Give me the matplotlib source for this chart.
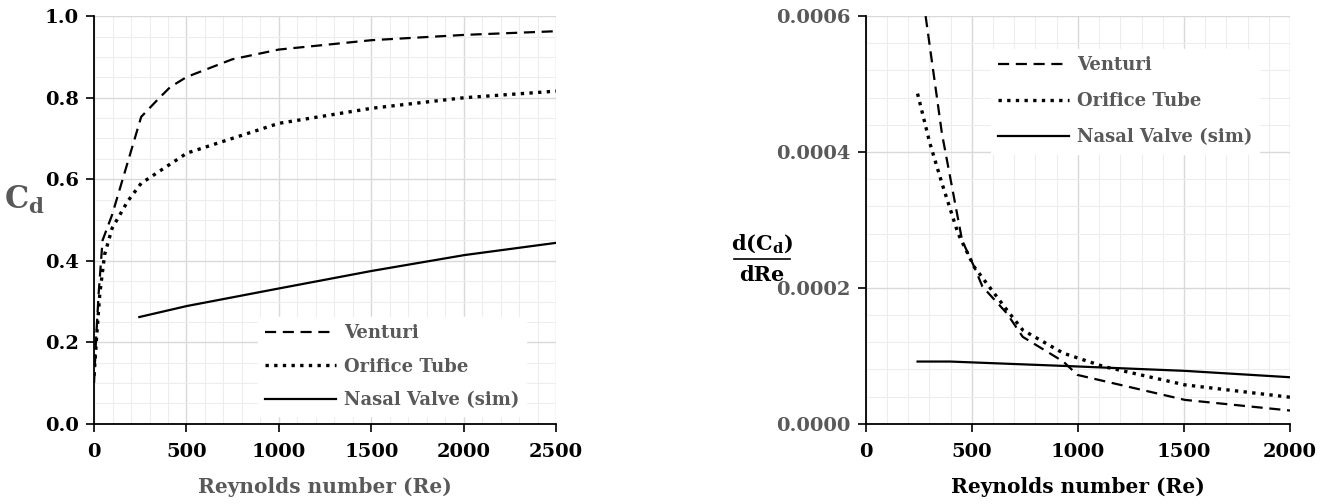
import matplotlib
matplotlib.use("Agg")
import matplotlib.pyplot as plt
from matplotlib.lines import Line2D
from matplotlib.ticker import MultipleLocator, FormatStrFormatter

# left panel: discharge coefficient vs Re
re_venturi = [0, 10, 25, 46, 98, 151, 255, 350, 412, 502, 747, 999, 1501, 2004, 2500]
cd_venturi = [0.10, 0.20, 0.32, 0.45, 0.513, 0.594, 0.753, 0.798, 0.826, 0.851, 0.894, 0.918, 0.941, 0.954, 0.963]
re_orifice = [0, 15, 31, 57, 98, 182, 255, 502, 747, 999, 1501, 2004, 2500]
cd_orifice = [0.118, 0.22, 0.318, 0.415, 0.48, 0.546, 0.59, 0.664, 0.70, 0.737, 0.774, 0.80, 0.816]
re_nasal = [245, 502, 999, 1501, 2004, 2500]
cd_nasal = [0.262, 0.289, 0.332, 0.375, 0.414, 0.444]

# right panel: d(Cd)/dRe
re_dv = [282, 359, 454, 511, 550, 664, 740, 931, 998, 1504, 2000]
dcd_venturi = [0.0006, 0.000427, 0.00027, 0.000231, 0.000202, 0.000163, 0.000128, 0.0000917, 0.000072, 0.0000353, 0.0000196]
re_do = [244, 302, 359, 435, 511, 664, 740, 931, 1122, 1504, 2000]
dcd_orifice = [0.000486, 0.000413, 0.000354, 0.00028, 0.000231, 0.000168, 0.000138, 0.000104, 0.0000843, 0.0000574, 0.0000392]
re_dn = [244, 397, 931, 1504, 2000]
dcd_nasal = [0.0000917, 0.0000917, 0.0000853, 0.000078, 0.0000686]

labels = ["Venturi", "Orifice Tube", "Nasal Valve (sim)"]
styles = [(0, (5, 3)), (0, (1, 1.6)), "-"]
widths = [1.6, 2.4, 1.6]

plt.rcParams["font.family"] = ["DejaVu Serif"]
plt.rcParams["font.weight"] = "bold"
gray = "#595959"

fig = plt.figure(figsize=(13.32, 5.04), dpi=100)
ax1 = fig.add_axes([0.0706, 0.159, 0.347, 0.809])
ax2 = fig.add_axes([0.650, 0.159, 0.3185, 0.809])


def style_axes(ax, xmax, ymax, ymaj, ymin, ylabcolor):
    ax.set_xlim(0, xmax)
    ax.set_ylim(0, ymax)
    ax.xaxis.set_major_locator(MultipleLocator(500))
    ax.xaxis.set_minor_locator(MultipleLocator(100))
    ax.yaxis.set_major_locator(MultipleLocator(ymaj))
    ax.yaxis.set_minor_locator(MultipleLocator(ymin))
    ax.grid(which="major", color="#d9d9d9", lw=1.0)
    ax.grid(which="minor", color="#ededed", lw=0.8)
    ax.set_axisbelow(True)
    for s in ["top", "right"]:
        ax.spines[s].set_visible(False)
    for s in ["left", "bottom"]:
        ax.spines[s].set_linewidth(1.3)
    ax.tick_params(which="major", direction="out", length=6, width=1.2, labelsize=14)
    ax.tick_params(which="minor", length=0)
    ax.tick_params(axis="y", labelcolor=ylabcolor, pad=5)
    ax.tick_params(axis="x", labelcolor="black", pad=8)
    for t in ax.get_xticklabels() + ax.get_yticklabels():
        t.set_fontweight("bold")


def add_legend(ax, anchor, spacing):
    leg = ax.legend(loc="upper left", bbox_to_anchor=anchor, frameon=True, fontsize=13,
                    handlelength=3.9, handletextpad=0.45, labelspacing=spacing,
                    borderaxespad=0.0, fancybox=False)
    leg.get_frame().set_edgecolor("white")
    leg.get_frame().set_facecolor("white")
    leg.get_frame().set_alpha(1.0)
    for t in leg.get_texts():
        t.set_color(gray)
    return leg


# left
ax1.plot(re_venturi, cd_venturi, color="black", lw=widths[0], ls=styles[0], label=labels[0])
ax1.plot(re_orifice, cd_orifice, color="black", lw=widths[1], ls=styles[1], label=labels[1])
ax1.plot(re_nasal, cd_nasal, color="black", lw=widths[2], ls=styles[2], label=labels[2])
style_axes(ax1, 2500, 1.0, 0.2, 0.05, "black")
ax1.yaxis.set_major_formatter(FormatStrFormatter("%.1f"))
ax1.set_xlabel("Reynolds number (Re)", fontsize=14.5, fontweight="bold", color=gray, labelpad=11)
fig.text(0.018, 0.603, r"C$_\mathregular{d}$", fontsize=22, fontweight="bold", color=gray,
         ha="center", va="center")
add_legend(ax1, (0.355, 0.262), 0.85)

# right
ax2.plot(re_dv, dcd_venturi, color="black", lw=widths[0], ls=styles[0], label=labels[0])
ax2.plot(re_do, dcd_orifice, color="black", lw=widths[1], ls=styles[1], label=labels[1])
ax2.plot(re_dn, dcd_nasal, color="black", lw=widths[2], ls=styles[2], label=labels[2])
style_axes(ax2, 2000, 0.0006, 0.0002, 0.00004, gray)
ax2.yaxis.set_major_formatter(FormatStrFormatter("%.4f"))
ax2.set_xlabel("Reynolds number (Re)", fontsize=14.5, fontweight="bold", color="black", labelpad=11)
add_legend(ax2, (0.295, 0.919), 1.0)

# fraction label d(Cd)/dRe
fig.text(0.572, 0.515, r"d(C$_\mathregular{d}$)", fontsize=15, fontweight="bold",
         ha="center", va="center")
fig.add_artist(Line2D([0.551, 0.593], [0.487, 0.487], color="black", lw=1.2,
                      transform=fig.transFigure))
fig.text(0.572, 0.455, "dRe", fontsize=15, fontweight="bold", ha="center", va="center")

fig.savefig("out.png", dpi=100)
